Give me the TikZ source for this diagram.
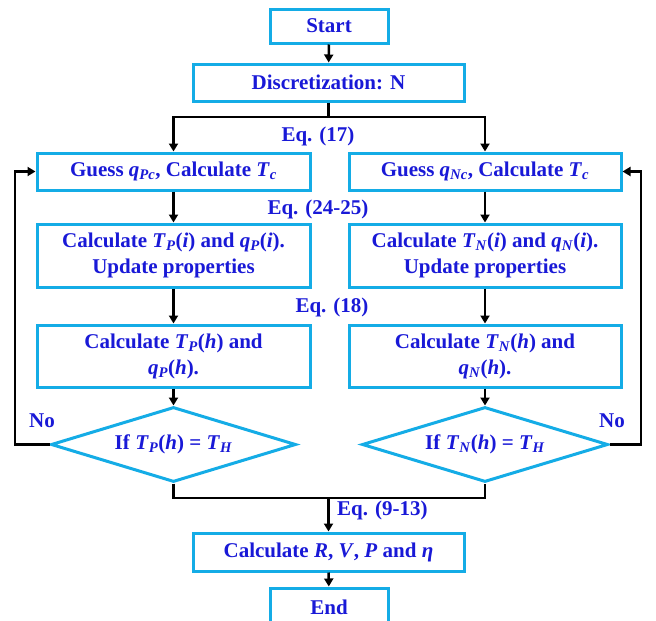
\documentclass[tikz,border=0pt]{standalone}
\usepackage{fontspec}
\setmainfont{Liberation Serif}
\usetikzlibrary{arrows.meta,shapes.geometric}
\definecolor{boxcyan}{RGB}{20,172,230}
\definecolor{txtblue}{RGB}{25,25,215}
\newcommand{\vb}[1]{\textbf{\textit{#1}}}
\newcommand{\sbb}[1]{\textsubscript{\textbf{\textit{#1}}}}
\tikzset{
  every node/.style={font=\fontsize{21}{26}\selectfont\bfseries, text=txtblue},
  procbox/.style={draw=boxcyan, line width=3pt, rectangle, inner sep=0pt, align=center, fill=white},
  decbox/.style={draw=boxcyan, line width=3pt, diamond, aspect=3.27, inner sep=0pt, fill=white},
  conn/.style={draw=black, line width=2.5pt},
  arr/.style={conn, -{Triangle[length=8pt,width=9pt]}},
  eqlabel/.style={inner sep=0pt}
}
\begin{document}
\begin{tikzpicture}[x=1pt,y=-1pt]
\useasboundingbox (0,0) rectangle (656,621);
% nodes
\node[procbox, minimum width=118pt, minimum height=34pt] (start) at (329,26) {Start};
\node[procbox, minimum width=271pt, minimum height=37pt] (disc) at (328.5,82.5) {Discretization: N};
\node[procbox, minimum width=273pt, minimum height=37pt] (gP) at (173.5,171.5) {Guess \vb{q}\sbb{Pc}, Calculate \vb{T}\sbb{c}};
\node[procbox, minimum width=272pt, minimum height=37pt] (gN) at (485,171.5) {Guess \vb{q}\sbb{Nc}, Calculate \vb{T}\sbb{c}};
\node[procbox, minimum width=273pt, minimum height=63pt] (ciP) at (173.5,255.5) {Calculate \vb{T}\sbb{P}(\vb{i}) and \vb{q}\sbb{P}(\vb{i}).\\Update properties};
\node[procbox, minimum width=272pt, minimum height=63pt] (ciN) at (485,255.5) {Calculate \vb{T}\sbb{N}(\vb{i}) and \vb{q}\sbb{N}(\vb{i}).\\Update properties};
\node[procbox, minimum width=273pt, minimum height=62pt] (chP) at (173.5,356) {Calculate \vb{T}\sbb{P}(\vb{h}) and\\\vb{q}\sbb{P}(\vb{h}).};
\node[procbox, minimum width=272pt, minimum height=62pt] (chN) at (485,356) {Calculate \vb{T}\sbb{N}(\vb{h}) and\\\vb{q}\sbb{N}(\vb{h}).};
\node[decbox, minimum width=245pt, minimum height=75pt] (dP) at (173.5,444.5) {If \vb{T}\sbb{P}(\vb{h}) = \vb{T}\sbb{H}};
\node[decbox, minimum width=246pt, minimum height=75pt] (dN) at (485,444.5) {If \vb{T}\sbb{N}(\vb{h}) = \vb{T}\sbb{H}};
\node[procbox, minimum width=271pt, minimum height=38pt] (cR) at (328.5,552) {Calculate \vb{R}, \vb{V}, \vb{P} and \vb{η}};
\node[procbox, minimum width=118pt, minimum height=38pt] (endn) at (329,607) {End};
% labels
\node[eqlabel] (eq17) at (318,136) {Eq. (17)};
\node[eqlabel] (eq2425) at (318,209) {Eq. (24-25)};
\node[eqlabel] (eq18) at (332,307) {Eq. (18)};
\node[eqlabel, anchor=west] (eq913) at (337,510) {Eq. (9-13)};
\node[eqlabel] (noL) at (42,421) {No};
\node[eqlabel] (noR) at (612,421) {No};
% coordinates
\coordinate (j1) at (328.5,117);
\coordinate (j2) at (328.5,498);
\coordinate (lp) at (15,444.5);
\coordinate (rp) at (641,444.5);
% connectors
\draw[arr] (start) -- (disc);
\draw[conn] (disc.south) -- (j1);
\draw[arr] (j1) -| (gP.north);
\draw[arr] (j1) -| (gN.north);
\draw[arr] (gP) -- (ciP);
\draw[arr] (gN) -- (ciN);
\draw[arr] (ciP) -- (chP);
\draw[arr] (ciN) -- (chN);
\draw[arr] (chP) -- (dP);
\draw[arr] (chN) -- (dN);
\draw[conn] (dP.south) |- (j2) -| (dN.south);
\draw[arr] (j2) -- (cR.north);
\draw[arr] (cR) -- (endn);
\draw[arr] (dP.west) -- (lp) |- (gP.west);
\draw[arr] (dN.east) -- (rp) |- (gN.east);
\end{tikzpicture}
\end{document}
